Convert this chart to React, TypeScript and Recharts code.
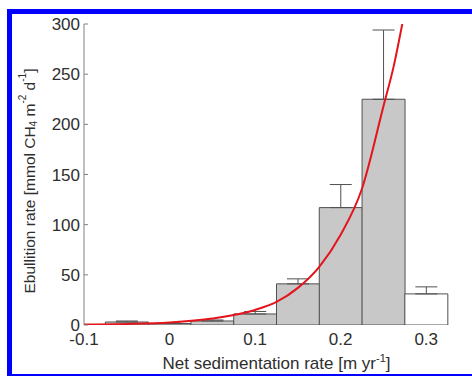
import React from 'react';
import { ComposedChart, Bar, Line, XAxis, YAxis, ErrorBar, Cell, Label } from 'recharts';

// Histogram bins (bin centres, m/yr)
const binCenters = [-0.05, 0, 0.05, 0.1, 0.15, 0.2, 0.25, 0.3];
const ebullition = [3, 1.5, 4, 11, 41, 117, 225, 31];
const errorUp = [1, 0.5, 1, 2.5, 5, 23, 69, 7];
const binFill = ['#c8c8c8', '#c8c8c8', '#c8c8c8', '#c8c8c8', '#c8c8c8', '#c8c8c8', '#c8c8c8', '#ffffff'];

// Fitted curve
const curveX = [-0.1, -0.05, 0, 0.05, 0.1, 0.125, 0.15, 0.175, 0.2, 0.225, 0.25, 0.262, 0.272];
const curveY = [0.5, 1.1, 2.6, 6.5, 15, 23, 37, 58, 90, 136, 218, 258, 300];

const xTicks = [-0.1, 0, 0.1, 0.2, 0.3];
const yTicks = [0, 50, 100, 150, 200, 250, 300];

const barData = binCenters.map((x, i) => ({ x, y: ebullition[i], err: [0, errorUp[i]] }));
const curveData = curveX.map((x, i) => ({ x, fit: curveY[i] }));

const TEXT = '#2e2e2e';
const FONT = 'Liberation Sans, Arial, sans-serif';

const YTick = (props: any) => {
  const { x, y, payload } = props;
  return (
    <g>
      <line x1={x + 8} x2={x + 12} y1={y} y2={y} stroke="#808080" strokeWidth={1} />
      <text x={x + 4} y={y} dy="0.36em" textAnchor="end" fill={TEXT} fontSize={17} fontFamily={FONT}>
        {payload.value}
      </text>
    </g>
  );
};

const XTick = (props: any) => {
  const { x, y, payload } = props;
  return (
    <text x={x} y={y} dy="0.71em" textAnchor="middle" fill={TEXT} fontSize={17} fontFamily={FONT}>
      {payload.value}
    </text>
  );
};

const XLabel = (props: any) => {
  const vb = props.viewBox || {};
  const cx = vb.x + vb.width / 2;
  const y = vb.y + 44;
  return (
    <text x={cx} y={y} textAnchor="middle" fill={TEXT} fontSize={17} fontFamily={FONT}>
      Net sedimentation rate [m yr
      <tspan dy={-7} fontSize={11}>-1</tspan>
      <tspan dy={7}>]</tspan>
    </text>
  );
};

const YLabel = (props: any) => {
  const cx = 29;
  const cy = 181;
  return (
    <text
      x={cx}
      y={cy}
      textAnchor="middle"
      dominantBaseline="central"
      transform={`rotate(-90, ${cx}, ${cy})`}
      fill={TEXT}
      fontSize={15.5}
      fontFamily={FONT}
    >
      Ebullition rate [mmol CH
      <tspan dy={4} fontSize={10}>4</tspan>
      <tspan dy={-4}> m</tspan>
      <tspan dy={-7} fontSize={10}>-2</tspan>
      <tspan dy={7}> d</tspan>
      <tspan dy={-7} fontSize={10}>-1</tspan>
      <tspan dy={7}>]</tspan>
    </text>
  );
};

export default function App() {
  return (
    <div style={{ position: 'absolute', left: 0, top: 0, width: 472, height: 376, background: '#fff', overflow: 'hidden' }}>
      <div style={{ position: 'absolute', left: 0, top: 0 }}>
        <ComposedChart
          width={472}
          height={376}
          data={barData}
          margin={{ top: 24, right: 3, bottom: 0, left: 0 }}
          barCategoryGap={0}
        >
          <XAxis
            dataKey="x"
            type="number"
            domain={[-0.1, 0.35]}
            ticks={xTicks}
            allowDataOverflow
            axisLine={false}
            tickLine={false}
            height={51}
            tick={<XTick />}
          >
            <Label content={<XLabel />} />
          </XAxis>
          <XAxis
            xAxisId="curve"
            dataKey="x"
            type="number"
            domain={[-0.1, 0.35]}
            allowDataOverflow
            hide
          />
          <YAxis
            type="number"
            domain={[0, 300]}
            ticks={yTicks}
            allowDataOverflow
            width={84}
            axisLine={{ stroke: '#808080', strokeWidth: 1 }}
            tickLine={false}
            tick={<YTick />}
          >
            <Label content={<YLabel />} />
          </YAxis>
          <Bar dataKey="y" stroke="#505050" strokeWidth={1} isAnimationActive={false}>
            {barData.map((d, i) => (
              <Cell key={i} fill={binFill[i]} />
            ))}
            <ErrorBar dataKey="err" width={11} stroke="#505050" strokeWidth={1} direction="y" />
          </Bar>
          <Line
            xAxisId="curve"
            data={curveData}
            dataKey="fit"
            type="monotone"
            stroke="#e3141c"
            strokeWidth={2}
            dot={false}
            activeDot={false}
            isAnimationActive={false}
          />
        </ComposedChart>
      </div>
      <div style={{ position: 'absolute', left: 7, top: 9, width: 465, height: 5, background: '#0000ff' }} />
      <div style={{ position: 'absolute', left: 7, top: 9, width: 5, height: 367, background: '#0000ff' }} />
      <div style={{ position: 'absolute', left: 7, top: 374, width: 465, height: 2, background: '#0000ff' }} />
    </div>
  );
}
